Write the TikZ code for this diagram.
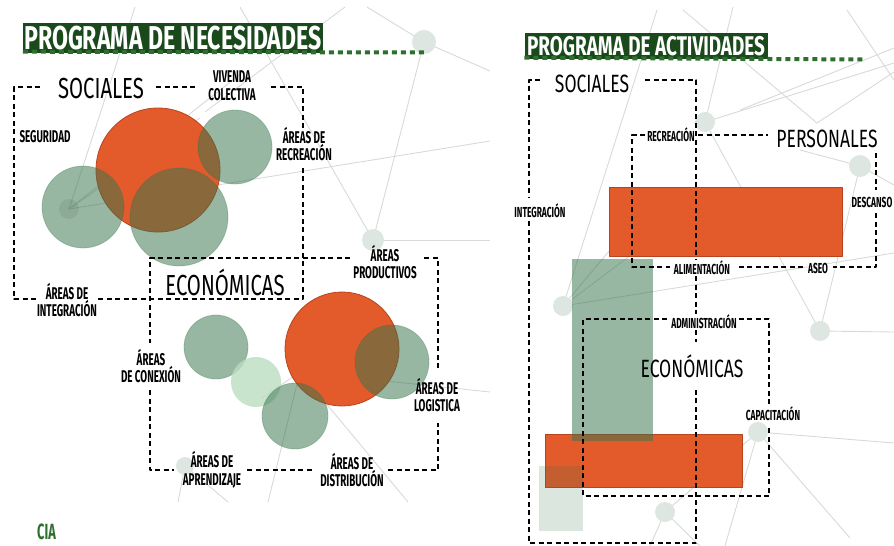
\documentclass[tikz,border=0pt]{standalone}
\usepackage{fontspec}
\setmainfont{Fira Sans}
\newfontfamily\titfont[FakeStretch=0.70]{Fira Sans}
\newfontfamily\bigfont[FakeStretch=0.70]{Fira Sans}
\newfontfamily\labfont[FakeStretch=0.58]{Fira Sans}
\usetikzlibrary{backgrounds}

\definecolor{naranja}{HTML}{E35A2B}
\definecolor{naranjaedge}{HTML}{B8441F}
\definecolor{verde}{HTML}{37754C}
\definecolor{verdeclaro}{HTML}{BCDDBF}
\definecolor{titverde}{HTML}{1A4A1C}
\definecolor{puntos}{HTML}{2E6E2E}
\definecolor{mallagris}{HTML}{D6DBD7}
\definecolor{mallanodo}{HTML}{DEE6E1}

\tikzset{caja/.style={draw=black, line width=1.6pt, dash pattern=on 5pt off 3.5pt}}
\tikzset{malla/.style={draw=mallagris, line width=0.9pt}}
\tikzset{subrayado/.style={draw=puntos, line width=4pt, dash pattern=on 5pt off 4pt}}
\tikzset{circnar/.style={fill=naranja, draw=naranjaedge, line width=0.8pt}}
\tikzset{circver/.style={fill=verde, draw=verde, fill opacity=0.52, draw opacity=0.3, line width=0.8pt}}
\tikzset{titulo/.style={fill=titverde, text=white, inner sep=0pt,
    font=\titfont\bfseries\fontsize{#1}{#1}\selectfont}}
\tikzset{grande/.style={inner sep=0pt, font=\bigfont\fontsize{#1}{#1}\selectfont}}
\tikzset{etiq/.style={inner sep=0pt, align=center,
    font=\labfont\bfseries\fontsize{17}{17.5}\selectfont}}
\tikzset{etiqb/.style={inner sep=0pt, align=center,
    font=\labfont\bfseries\fontsize{14.5}{15}\selectfont}}

\begin{document}
\begin{tikzpicture}[x=1pt, y=-1pt, line join=round]
\useasboundingbox (0,0) rectangle (894,546);

% malla de fondo
\coordinate (m1) at (424,42);
\coordinate (m2) at (373,240);
\coordinate (m3) at (69,209);
\coordinate (m4) at (185,466);
\coordinate (m5) at (300,372);
\coordinate (h1) at (705,122);
\coordinate (h2) at (860,166);
\coordinate (h3) at (563,306);
\coordinate (h4) at (820,331);
\coordinate (h5) at (758,432);
\coordinate (h6) at (665,512);

\draw[malla] (m3) -- (135,7);
\draw[malla] (m3) -- (243,72);
\draw[malla] (m3) -- (490,141);
\draw[malla] (m3) -- (200,118);
\draw[malla] (345,7) -- (205,112);
\draw[malla] (240,7) -- (m2);
\draw[malla] (m1) -- (m2);
\draw[malla] (367,7) -- (m1) -- (490,71);
\draw[malla] (m2) -- (490,240);
\draw[malla] (m4) -- (178,502);
\draw[malla] (m4) -- (228,502);
\draw[malla] (m5) -- (268,502);
\draw[malla] (m5) -- (408,502);
\draw[malla] (m5) -- (490,392);
\draw[malla] (m5) -- (262,398);

\draw[malla] (733,7) -- (h1) -- (894,63);
\draw[malla] (683,10) -- (817,123) -- (894,72);
\draw[malla] (847,10) -- (894,80);
\draw[malla] (740,110) -- (894,48);
\draw[malla] (h4) -- (h1);
\draw[malla] (h4) -- (h2);
\draw[malla] (h2) -- (894,185);
\draw[malla] (h2) -- (800,150);
\draw[malla] (h4) -- (894,332);
\draw[malla] (657,10) -- (h3) -- (894,253);
\draw[malla] (h3) -- (610,250);
\draw[malla] (h3) -- (635,252);
\draw[malla] (h5) -- (894,443);
\draw[malla] (h5) -- (850,538);
\draw[malla] (h5) -- (h6);
\draw[malla] (h5) -- (725,546);
\draw[malla] (h6) -- (650,546);
\draw[malla] (h6) -- (700,546);

\foreach \p/\r in {m1/12, m2/11, m4/9, m5/10, h1/10, h2/11, h3/10, h4/10, h5/10, h6/10}
  \fill[mallanodo] (\p) circle (\r pt);

% programa de necesidades
\fill[circnar] (158,170) circle (62pt);
\fill[circver] (83,207) circle (41pt);
\fill[circver] (235,147) circle (37pt);
\fill[circver] (179,217) circle (49pt);
\fill[black, opacity=0.07] (m3) circle (10pt);

\fill[circnar] (342,349) circle (57pt);
\fill[circver] (392,362) circle (37pt);
\fill[circver] (216,347) circle (32pt);
\fill[verdeclaro, opacity=0.8] (256,382) circle (25pt);
\fill[circver] (295,416) circle (33pt);

% programa de actividades
\filldraw[circnar] (609,187) rectangle (842,256);
\filldraw[circnar] (545,434) rectangle (742,487);
\fill[circver, draw opacity=0] (572,259) rectangle (653,441);
\fill[verde, opacity=0.18] (539,466) rectangle (583,531);

% cajas
\draw[caja] (40,87) -- (14,87) -- (14,299) -- (36,299);
\draw[caja] (98,299) -- (303,299) -- (303,165);
\draw[caja] (303,128) -- (303,87) -- (268,87);
\draw[caja] (195,87) -- (155,87);

\draw[caja] (350,258) -- (150,258) -- (150,343);
\draw[caja] (150,390) -- (150,470) -- (174,470);
\draw[caja] (247,470) -- (312,470);
\draw[caja] (388,470) -- (438,470) -- (438,423);
\draw[caja] (438,368) -- (438,258) -- (424,258);

\draw[caja] (540,80) -- (529,80) -- (529,198);
\draw[caja] (529,221) -- (529,543) -- (696,543) -- (696,388);
\draw[caja] (645,80) -- (696,80) -- (696,259);
\draw[caja] (696,276) -- (696,314);
\draw[caja] (696,330) -- (696,342);

\draw[caja] (645,135) -- (632,135) -- (632,267) -- (670,267);
\draw[caja] (698,135) -- (768,135);
\draw[caja] (876,153) -- (876,190);
\draw[caja] (876,213) -- (876,267) -- (833,267);
\draw[caja] (803,267) -- (737,267);

\draw[caja] (667,319) -- (583,319) -- (583,496) -- (769,496) -- (769,425);
\draw[caja] (769,404) -- (769,319) -- (739,319);

% titulos
\node[titulo=33, minimum width=300pt, minimum height=30pt] (titNec) at (173,38) {PROGRAMA DE NECESIDADES};
\node[titulo=27, minimum width=243pt, minimum height=26pt] (titAct) at (646,46) {PROGRAMA DE ACTIVIDADES};
\draw[subrayado] (titNec.south west) ++(0,-1.5) -- (427,52.5);
\draw[subrayado] (titAct.south west) ++(0,-1.5) -- (865,59.5);

\node[grande=29] (socN) at (101,89) {SOCIALES};
\node[grande=29] (ecoN) at (225,282) {ECONÓMICAS};
\node[grande=25] (socA) at (592,84) {SOCIALES};
\node[grande=25] (perA) at (827,139) {PERSONALES};
\node[grande=25] (ecoA) at (692,366) {ECONÓMICAS};

\node[etiq] (vivenda) at (232,86) {VIVENDA\\COLECTIVA};
\node[etiq] (seguridad) at (45,137) {SEGURIDAD};
\node[etiq] (recreacion) at (304,144) {ÁREAS DE\\RECREACIÓN};
\node[etiq] (integracion) at (67,300) {ÁREAS DE\\INTEGRACIÓN};
\node[etiq] (productivos) at (385,262) {ÁREAS\\PRODUCTIVOS};
\node[etiq] (conexion) at (151,366) {ÁREAS\\DE CONEXIÓN};
\node[etiq] (logistica) at (437,395) {ÁREAS DE\\LOGISTICA};
\node[etiq] (aprendizaje) at (212,470) {ÁREAS DE\\APRENDIZAJE};
\node[etiq] (distribucion) at (352,470) {ÁREAS DE\\DISTRIBUCIÓN};

\node[etiqb] (integracionA) at (540,211) {INTEGRACIÓN};
\node[etiqb] (recreacionA) at (671,135) {RECREACIÓN};
\node[etiqb] (descanso) at (872,202) {DESCANSO};
\node[etiqb] (alimentacion) at (702,268) {ALIMENTACIÓN};
\node[etiqb] (aseo) at (818,268) {ASEO};
\node[etiqb] (administracion) at (704,322) {ADMINISTRACIÓN};
\node[etiqb] (capacitacion) at (773,414) {CAPACITACIÓN};

\node[etiq, text=puntos, font=\labfont\bfseries\fontsize{22}{22}\selectfont, anchor=north west] (cia) at (37,524) {CIA};

\end{tikzpicture}
\end{document}
